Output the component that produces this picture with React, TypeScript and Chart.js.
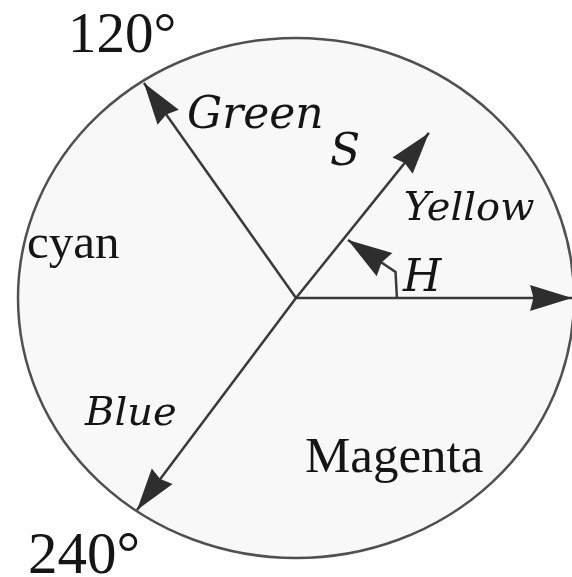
import React, { useEffect, useRef } from "react";
import { Chart, registerables } from "chart.js";

Chart.register(...registerables);

// Vector tips (unit ellipse = the HSI colour circle)
const origin = [0, 0];
const hueAxisTip = [0.993, 0];
const greenTip = [-0.547, 0.827];
const blueTip = [-0.572, -0.815];
const saturationTip = [0.478, 0.635];
const hueArcX = [0.363, 0.358, 0.187];
const hueArcY = [0, 0.1, 0.223];

// Labels
const labelTexts = ["120°", "Green", "S", "Yellow", "cyan", "H", "Blue", "Magenta", "240°"];
const labelX = [-0.82, -0.392, 0.122, 0.388, -0.968, 0.385, -0.759, 0.032, -0.964];
const labelY = [0.946, 0.654, 0.512, 0.3, 0.154, 0.027, -0.488, -0.669, -1.058];
const labelFonts = [
  "57px 'Liberation Serif'",
  "italic 44px 'DejaVu Serif'",
  "italic 44px 'DejaVu Serif'",
  "italic 40px 'DejaVu Serif'",
  "49px 'Liberation Serif'",
  "italic 44px 'DejaVu Serif'",
  "italic 40px 'DejaVu Serif'",
  "51px 'Liberation Serif'",
  "59px 'Liberation Serif'",
];

const W = 572;
const H = 577;

const seg = (a: number[], b: number[]) => [
  { x: a[0], y: a[1] },
  { x: b[0], y: b[1] },
];

export default function App() {
  const ref = useRef<HTMLCanvasElement | null>(null);

  useEffect(() => {
    if (!ref.current) return;
    const lineStyle = {
      type: "line" as const,
      showLine: true,
      borderColor: "#3a3a3a",
      borderWidth: 2.5,
      pointRadius: 0,
      fill: false,
      tension: 0,
      clip: false as any,
    };

    const ellipsePlugin = {
      id: "ellipse",
      beforeDatasetsDraw(chart: any) {
        const { ctx, scales } = chart;
        const cx = scales.x.getPixelForValue(origin[0]);
        const cy = scales.y.getPixelForValue(origin[1]);
        const rx = scales.x.getPixelForValue(1) - cx;
        const ry = cy - scales.y.getPixelForValue(1);
        ctx.save();
        ctx.beginPath();
        ctx.ellipse(cx, cy, rx, ry, 0, 0, Math.PI * 2);
        ctx.fillStyle = "#f8f8f8";
        ctx.fill();
        ctx.lineWidth = 2.5;
        ctx.strokeStyle = "#505050";
        ctx.stroke();
        ctx.restore();
      },
    };

    const arrowPlugin = {
      id: "arrowheads",
      afterDatasetsDraw(chart: any) {
        const { ctx } = chart;
        chart.data.datasets.forEach((ds: any, i: number) => {
          const meta = chart.getDatasetMeta(i);
          const pts = meta.data;
          if (pts.length < 2) return;
          const tip = pts[pts.length - 1];
          const prev = pts[pts.length - 2];
          const ang = Math.atan2(tip.y - prev.y, tip.x - prev.x);
          const len = ds.headLength || 42;
          const hw = ds.headHalfWidth || 13;
          const bx = tip.x - len * Math.cos(ang);
          const by = tip.y - len * Math.sin(ang);
          const nx = -Math.sin(ang);
          const ny = Math.cos(ang);
          ctx.save();
          ctx.beginPath();
          ctx.moveTo(tip.x, tip.y);
          ctx.lineTo(bx + nx * hw, by + ny * hw);
          ctx.lineTo(bx + 0.08 * len * Math.cos(ang), by + 0.08 * len * Math.sin(ang));
          ctx.lineTo(bx - nx * hw, by - ny * hw);
          ctx.closePath();
          ctx.fillStyle = "#2e2e2e";
          ctx.fill();
          ctx.restore();
        });
      },
    };

    const labelPlugin = {
      id: "labels",
      afterDraw(chart: any) {
        const { ctx, scales } = chart;
        ctx.save();
        ctx.fillStyle = "#151515";
        ctx.textAlign = "left";
        ctx.textBaseline = "alphabetic";
        labelTexts.forEach((t, i) => {
          ctx.font = labelFonts[i];
          ctx.fillText(t, scales.x.getPixelForValue(labelX[i]), scales.y.getPixelForValue(labelY[i]));
        });
        ctx.restore();
      },
    };

    const chart = new Chart(ref.current, {
      type: "scatter",
      data: {
        datasets: [
          { ...lineStyle, label: "H axis", data: seg(origin, hueAxisTip) },
          { ...lineStyle, label: "Green", data: seg(origin, greenTip) },
          { ...lineStyle, label: "Blue", data: seg(origin, blueTip) },
          { ...lineStyle, label: "S", data: seg(origin, saturationTip) },
          {
            ...lineStyle,
            label: "H",
            data: hueArcX.map((x, i) => ({ x, y: hueArcY[i] })),
            headLength: 44,
            headHalfWidth: 14,
          } as any,
        ],
      },
      options: {
        animation: false,
        responsive: false,
        maintainAspectRatio: false,
        layout: { padding: 0 },
        plugins: { legend: { display: false }, tooltip: { enabled: false } },
        events: [],
        scales: {
          x: { type: "linear", display: false, min: -296 / 278, max: 276 / 278 },
          y: { type: "linear", display: false, min: -279 / 260, max: 298 / 260 },
        },
      },
      plugins: [ellipsePlugin, arrowPlugin, labelPlugin],
    });
    return () => chart.destroy();
  }, []);

  return (
    <div style={{ position: "fixed", left: 0, top: 0, width: W, height: H, background: "#ffffff" }}>
      <canvas ref={ref} width={W} height={H} style={{ width: W, height: H, display: "block" }} />
    </div>
  );
}
